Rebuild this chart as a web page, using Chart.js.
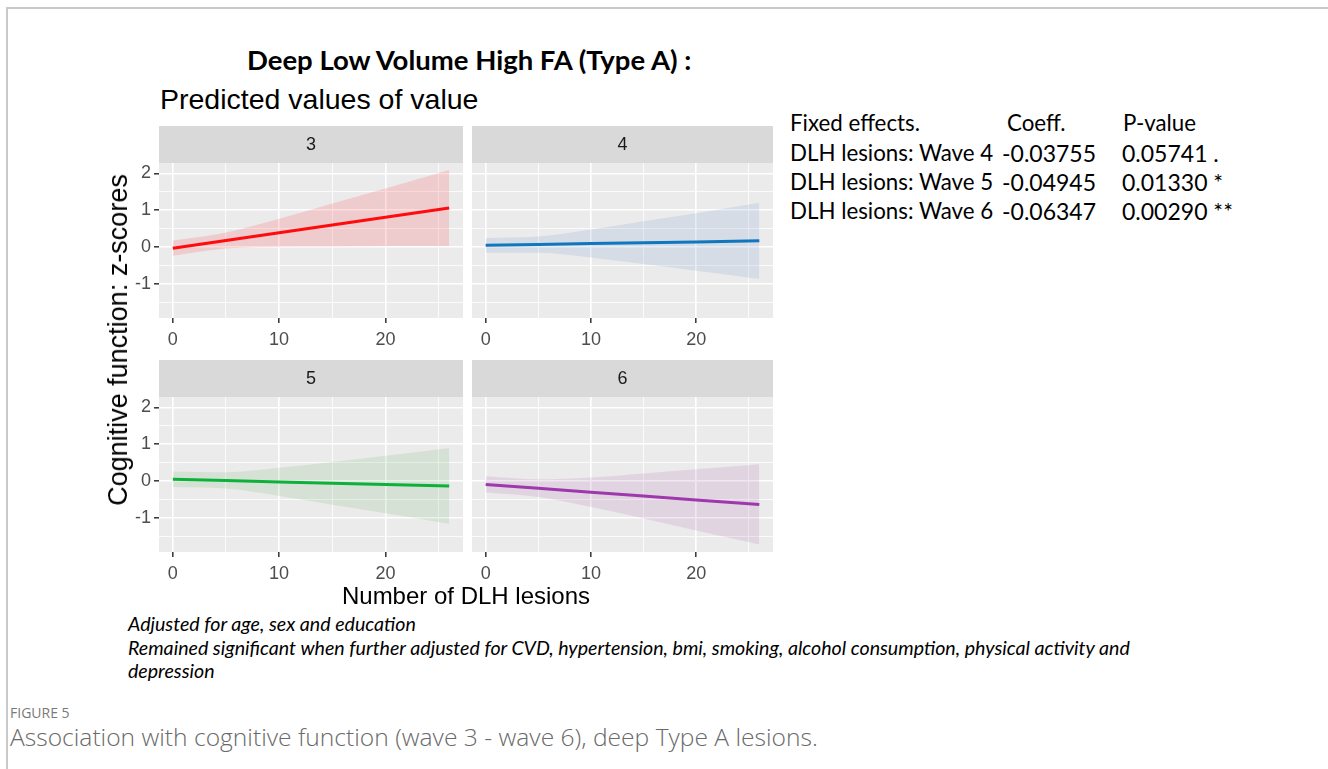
<!DOCTYPE html>
<html>
<head>
<meta charset="utf-8">
<script src="https://cdn.jsdelivr.net/npm/chart.js@4.4.0/dist/chart.umd.min.js"></script>
<style>
  html, body { margin: 0; background: #ffffff; width: 1328px; height: 769px; overflow: hidden; }
  body { position: relative; }
  .frame { position: absolute; left: 6px; top: 7px; width: 1400px; height: 800px; border-left: 2px solid #c9c9c9; border-top: 2px solid #c9c9c9; }
  .txt { position: absolute; white-space: nowrap; }
  .panel { position: absolute; }
  .calibri { font-family: Lato, "Open Sans", sans-serif; color: #000; }
  .arial { font-family: "Liberation Sans", Arial, sans-serif; color: #000; }
</style>
</head>
<body>
<div class="frame"></div>

<div class="txt calibri" style="left:247px; top:44px; font-size:27.5px; line-height:32px; font-weight:bold;">Deep Low Volume High FA (Type A) :</div>
<div class="txt arial" style="left:160px; top:83px; font-size:28.5px; line-height:32px;">Predicted values of value</div>

<div class="panel" style="left:110px; top:126px; width:353px; height:229px;"><canvas id="wave3"></canvas></div>
<div class="panel" style="left:472px; top:126px; width:301px; height:229px;"><canvas id="wave4"></canvas></div>
<div class="panel" style="left:110px; top:360px; width:353px; height:229px;"><canvas id="wave5"></canvas></div>
<div class="panel" style="left:472px; top:360px; width:301px; height:229px;"><canvas id="wave6"></canvas></div>

<div class="txt arial" style="left:118px; top:340px; font-size:27px; line-height:30px; transform: translate(-50%, -50%) rotate(-90deg);">Cognitive function: z-scores</div>
<div class="txt arial" style="left:466px; top:596px; font-size:24px; line-height:30px; transform: translate(-50%, -50%);">Number of DLH lesions</div>

<div class="txt calibri" style="left:790px; top:110px; font-size:22.3px; line-height:26px;">Fixed effects.</div>
<div class="txt calibri" style="left:1007px; top:110px; font-size:22.3px; line-height:26px;">Coeff.</div>
<div class="txt calibri" style="left:1123px; top:110px; font-size:22.3px; line-height:26px;">P-value</div>
<div id="table"></div>

<div class="txt calibri" style="left:128px; top:612px; font-size:19.6px; line-height:24px; font-style:italic;">Adjusted for age, sex and education</div>
<div class="txt calibri" style="left:128px; top:636px; font-size:19.6px; line-height:24px; font-style:italic;">Remained significant when further adjusted for CVD, hypertension, bmi, smoking, alcohol consumption, physical activity and</div>
<div class="txt calibri" style="left:128px; top:659px; font-size:19.6px; line-height:24px; font-style:italic;">depression</div>

<div class="txt" style="left:10px; top:704px; font-family:'Open Sans', sans-serif; font-size:14px; line-height:18px; color:#7a7a7a;">FIGURE 5</div>
<div class="txt" style="left:10px; top:723px; font-family:'Open Sans', sans-serif; font-size:24.6px; line-height:28px; color:#6a6a6a; font-weight:300;">Association with cognitive function (wave 3 - wave 6), deep Type A lesions.</div>

<script>
const lesions = [0, 5, 10, 15, 20, 26];

const waves = ["3", "4", "5", "6"];

const fitWave3 = [-0.03, 0.18, 0.39, 0.60, 0.81, 1.06];
const hiWave3 = [0.18, 0.40, 0.77, 1.18, 1.59, 2.09];
const loWave3 = [-0.23, -0.04, 0.01, 0.02, 0.03, 0.03];

const fitWave4 = [0.05, 0.07, 0.10, 0.12, 0.14, 0.17];
const hiWave4 = [0.25, 0.29, 0.48, 0.70, 0.92, 1.20];
const loWave4 = [-0.15, -0.15, -0.28, -0.46, -0.64, -0.86];

const fitWave5 = [0.05, 0.02, -0.02, -0.06, -0.09, -0.13];
const hiWave5 = [0.26, 0.24, 0.36, 0.52, 0.69, 0.90];
const loWave5 = [-0.16, -0.20, -0.40, -0.64, -0.87, -1.16];

const fitWave6 = [-0.09, -0.19, -0.30, -0.40, -0.51, -0.63];
const hiWave6 = [0.13, 0.05, 0.10, 0.21, 0.32, 0.46];
const loWave6 = [-0.31, -0.43, -0.70, -1.01, -1.34, -1.72];

const xTicks = [0, 5, 10, 15, 20, 25];
const yTicks = [-1.5, -1, -0.5, 0, 0.5, 1, 1.5, 2];
const xMajor = [0, 10, 20];
const yMajor = [-1, 0, 1, 2];

const tableRows = ["DLH lesions: Wave 4", "DLH lesions: Wave 5", "DLH lesions: Wave 6"];
const tableCoeff = ["-0.03755", "-0.04945", "-0.06347"];
const tablePvalue = ["0.05741 .", "0.01330 *", "0.00290 **"];

const LINE_COLORS = ["#ff0000", "#0072bd", "#00b233", "#9e35ae"];
const BAND_COLORS = [
  "rgba(255, 60, 70, 0.18)",
  "rgba(100, 140, 200, 0.16)",
  "rgba(90, 170, 90, 0.14)",
  "rgba(160, 80, 160, 0.14)",
];

function buildTable() {
  const holder = document.getElementById("table");
  const rowTops = [140, 169, 198];
  tableRows.forEach((row, i) => {
    const cols = [
      [790, row, "22.3px"],
      [1002, tableCoeff[i], "23px"],
      [1122, tablePvalue[i], "23px"],
    ];
    cols.forEach((c) => {
      const div = document.createElement("div");
      div.className = "txt calibri";
      div.style.left = c[0] + "px";
      div.style.top = rowTops[i] + "px";
      div.style.fontSize = c[2];
      div.style.lineHeight = "26px";
      div.textContent = c[1];
      holder.appendChild(div);
    });
  });
}

function toPoints(values) {
  return values.map((v, i) => ({ x: lesions[i], y: v }));
}

// grey panel background + strip above the panel
const facetPlugin = {
  id: "facet",
  beforeDraw(chart, args, opts) {
    const { ctx, chartArea } = chart;
    ctx.save();
    ctx.fillStyle = "#ebebeb";
    ctx.fillRect(chartArea.left, chartArea.top, chartArea.right - chartArea.left, chartArea.bottom - chartArea.top);
    ctx.fillStyle = "#d9d9d9";
    ctx.fillRect(chartArea.left, chartArea.top - 37, chartArea.right - chartArea.left, 37);
    ctx.fillStyle = "#1a1a1a";
    ctx.font = "18px 'Liberation Sans', Arial, sans-serif";
    ctx.textAlign = "center";
    ctx.textBaseline = "middle";
    ctx.fillText(opts.label, (chartArea.left + chartArea.right) / 2, chartArea.top - 18);
    ctx.restore();
  },
};

function makePanel(id, index, fit, hi, lo, showY) {
  const ctx = document.getElementById(id).getContext("2d");
  new Chart(ctx, {
    type: "line",
    data: {
      datasets: [
        {
          data: toPoints(lo),
          borderWidth: 0,
          pointRadius: 0,
          fill: false,
          cubicInterpolationMode: "monotone",
        },
        {
          data: toPoints(hi),
          borderWidth: 0,
          pointRadius: 0,
          fill: "-1",
          backgroundColor: BAND_COLORS[index],
          cubicInterpolationMode: "monotone",
        },
        {
          data: toPoints(fit),
          borderColor: LINE_COLORS[index],
          borderWidth: 3,
          pointRadius: 0,
          fill: false,
        },
      ],
    },
    options: {
      responsive: true,
      maintainAspectRatio: false,
      animation: false,
      events: [],
      layout: { padding: { top: 37, left: 0, right: 0, bottom: 0 } },
      scales: {
        x: {
          type: "linear",
          min: -1.3,
          max: 27.3,
          afterBuildTicks: function (scale) {
            scale.ticks = xTicks.map((v) => ({ value: v }));
          },
          afterFit: function (scale) {
            scale.height = 37;
          },
          border: { display: false },
          grid: {
            color: "#ffffff",
            lineWidth: function (c) {
              return xMajor.includes(c.tick.value) ? 1.6 : 0.8;
            },
            tickColor: function (c) {
              return xMajor.includes(c.tick.value) ? "#333333" : "rgba(0,0,0,0)";
            },
            tickWidth: 1.5,
            tickLength: 5,
          },
          ticks: {
            color: "#4d4d4d",
            padding: 6,
            maxRotation: 0,
            autoSkip: false,
            font: { family: "'Liberation Sans', Arial, sans-serif", size: 18 },
            callback: function (value) {
              return xMajor.includes(value) ? String(value) : "";
            },
          },
        },
        y: {
          min: -1.92,
          max: 2.28,
          afterBuildTicks: function (scale) {
            scale.ticks = yTicks.map((v) => ({ value: v }));
          },
          afterFit: function (scale) {
            scale.width = showY ? 49 : 0;
          },
          border: { display: false },
          grid: {
            color: "#ffffff",
            lineWidth: function (c) {
              return yMajor.includes(c.tick.value) ? 1.6 : 0.8;
            },
            drawTicks: showY,
            tickColor: function (c) {
              return yMajor.includes(c.tick.value) ? "#333333" : "rgba(0,0,0,0)";
            },
            tickWidth: 1.5,
            tickLength: 5,
          },
          ticks: {
            display: showY,
            color: "#4d4d4d",
            padding: 3,
            autoSkip: false,
            font: { family: "'Liberation Sans', Arial, sans-serif", size: 18 },
            callback: function (value) {
              return yMajor.includes(value) ? String(value) : "";
            },
          },
        },
      },
      plugins: {
        legend: { display: false },
        tooltip: { enabled: false },
        facet: { label: waves[index] },
      },
    },
    plugins: [facetPlugin],
  });
}

buildTable();
makePanel("wave3", 0, fitWave3, hiWave3, loWave3, true);
makePanel("wave4", 1, fitWave4, hiWave4, loWave4, false);
makePanel("wave5", 2, fitWave5, hiWave5, loWave5, true);
makePanel("wave6", 3, fitWave6, hiWave6, loWave6, false);
</script>
</body>
</html>
